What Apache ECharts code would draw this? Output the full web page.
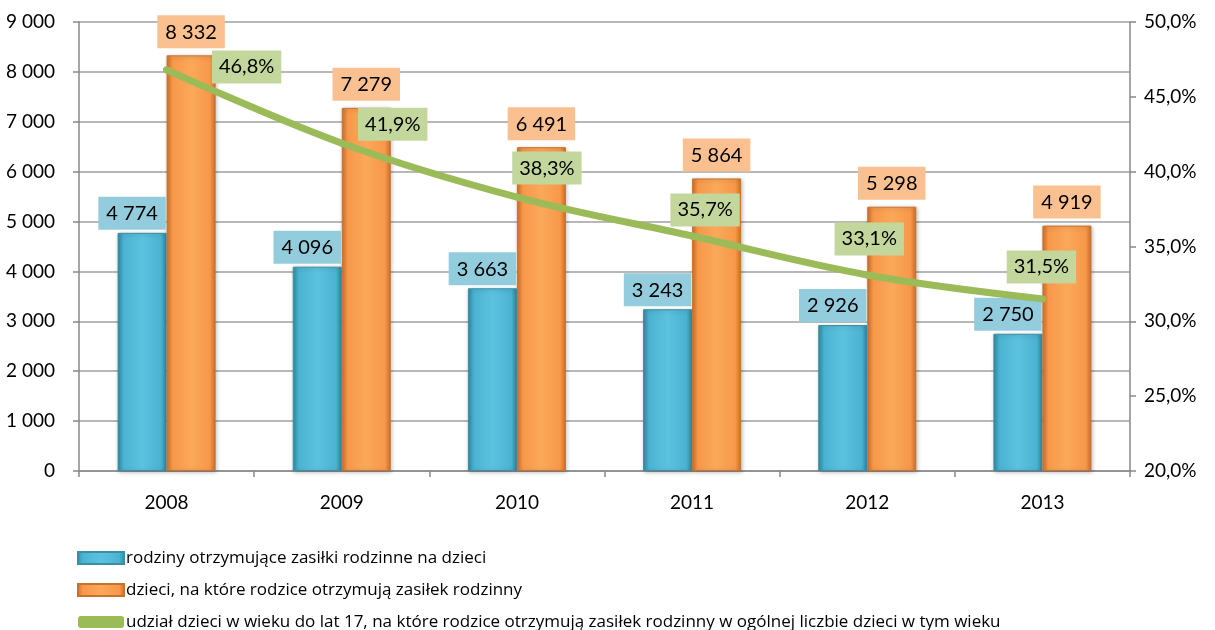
<!DOCTYPE html>
<html>
<head>
<meta charset="utf-8">
<script src="https://cdn.jsdelivr.net/npm/echarts@6/dist/echarts.min.js"></script>
<style>
  html, body { margin: 0; padding: 0; background: #fff; }
  #chart { width: 1215px; height: 630px; }
</style>
</head>
<body>
<div id="chart"></div>
<script>
// Years on the category axis
const years = ['2008', '2009', '2010', '2011', '2012', '2013'];
// Families receiving family allowances for children
const families = [4774, 4096, 3663, 3243, 2926, 2750];
// Children for whom parents receive family allowance
const children = [8332, 7279, 6491, 5864, 5298, 4919];
// Share of children under 17 receiving the allowance (%)
const share = [46.8, 41.9, 38.3, 35.7, 33.1, 31.5];

const seriesNames = [
  'rodziny otrzymujące zasiłki rodzinne na dzieci',
  'dzieci, na które rodzice otrzymują zasiłek rodzinny',
  'udział dzieci w wieku do lat 17, na które rodzice otrzymują zasiłek rodzinny w ogólnej liczbie dzieci w tym wieku'
];

// Per-point label shifts (from the point centre) for the share line boxes
const shareLabelOffsets = [[80, -3], [51, -19], [30, -29], [13, -26], [2, -36], [-1, -32]];

const FONT = 'Lato, "Open Sans", sans-serif';
const LEGEND_FONT = '"Open Sans", Lato, sans-serif';

const fmtThousands = v => String(Math.round(v)).replace(/\B(?=(\d{3})+(?!\d))/g, ' ');
const fmtPct = v => v.toFixed(1).replace('.', ',') + '%';

function barGradient(dark, mid, light) {
  return new echarts.graphic.LinearGradient(0, 0, 1, 0, [
    { offset: 0, color: dark },
    { offset: 0.12, color: mid },
    { offset: 0.5, color: light },
    { offset: 0.88, color: mid },
    { offset: 1, color: dark }
  ]);
}

const chart = echarts.init(document.getElementById('chart'), null, { renderer: 'canvas' });

chart.setOption({
  animation: false,
  textStyle: { fontFamily: FONT },
  grid: { left: 79, right: 85, top: 22, bottom: 159, containLabel: false },
  legend: {
    orient: 'vertical',
    left: 72,
    top: 542,
    height: 100,
    itemGap: 10,
    itemWidth: 46,
    itemHeight: 12,
    textStyle: { fontFamily: LEGEND_FONT, fontSize: 17, lineHeight: 22, color: '#000', padding: [0, 0, 0, -3] },
    data: [
      { name: seriesNames[0], icon: 'rect' },
      { name: seriesNames[1], icon: 'rect' },
      { name: seriesNames[2], icon: 'roundRect' }
    ]
  },
  xAxis: {
    type: 'category',
    data: years,
    axisLine: { lineStyle: { color: '#888', width: 1.5 } },
    axisTick: { show: true, length: 6, lineStyle: { color: '#888', width: 1.5 } },
    axisLabel: { fontSize: 19, color: '#000', margin: 22, fontFamily: FONT }
  },
  yAxis: [
    {
      type: 'value',
      min: 0,
      max: 9000,
      interval: 1000,
      axisLine: { show: true, lineStyle: { color: '#888', width: 1.5 } },
      axisTick: { show: true, length: 6, lineStyle: { color: '#888', width: 1.5 } },
      axisLabel: { fontSize: 19, color: '#000', margin: 24, formatter: fmtThousands, fontFamily: FONT },
      splitLine: { lineStyle: { color: '#a0a0a0', width: 1.5 } }
    },
    {
      type: 'value',
      min: 20,
      max: 50,
      interval: 5,
      position: 'right',
      axisLine: { show: true, lineStyle: { color: '#888', width: 1.5 } },
      axisTick: { show: true, length: 6, lineStyle: { color: '#888', width: 1.5 } },
      axisLabel: { fontSize: 19, color: '#000', margin: 14, formatter: v => fmtPct(v), fontFamily: FONT },
      splitLine: { show: false }
    }
  ],
  series: [
    {
      name: seriesNames[0],
      type: 'bar',
      data: families,
      barWidth: 49,
      barGap: '0%',
      itemStyle: {
        color: barGradient('#2f8aa3', '#4bb3d2', '#5cc2de'),
        borderColor: '#3a8ea6',
        borderWidth: 1,
        shadowColor: 'rgba(0,0,0,0.25)',
        shadowBlur: 4,
        shadowOffsetX: 1,
        shadowOffsetY: 1
      },
      label: {
        show: true,
        position: 'top',
        distance: 3,
        offset: [-10, 0],
        formatter: p => fmtThousands(p.value),
        fontFamily: FONT,
        fontSize: 20,
        lineHeight: 22,
        color: '#000',
        backgroundColor: '#93cddd',
        padding: [6, 8, 5, 8]
      },
      z: 2
    },
    {
      name: seriesNames[1],
      type: 'bar',
      data: children,
      barWidth: 49,
      barGap: '0%',
      itemStyle: {
        color: barGradient('#d0702a', '#f7984a', '#fba85a'),
        borderColor: '#c8722e',
        borderWidth: 1,
        shadowColor: 'rgba(0,0,0,0.25)',
        shadowBlur: 4,
        shadowOffsetX: 1,
        shadowOffsetY: 1
      },
      label: {
        show: true,
        position: 'top',
        distance: 7,
        offset: [0, 0],
        formatter: p => fmtThousands(p.value),
        fontFamily: FONT,
        fontSize: 20,
        lineHeight: 22,
        color: '#000',
        backgroundColor: '#fac090',
        padding: [6, 8, 5, 8]
      },
      z: 2
    },
    {
      name: seriesNames[2],
      type: 'line',
      yAxisIndex: 1,
      smooth: 0.35,
      data: share.map((v, i) => ({
        value: v,
        label: { offset: shareLabelOffsets[i] }
      })),
      symbol: 'circle',
      symbolSize: 7,
      showSymbol: true,
      itemStyle: { color: '#9bbb59' },
      lineStyle: { color: '#9bbb59', width: 7, cap: 'round' },
      label: {
        show: true,
        position: 'inside',
        formatter: p => fmtPct(p.value),
        fontFamily: FONT,
        fontSize: 20,
        lineHeight: 22,
        color: '#000',
        backgroundColor: '#c3d69b',
        padding: [6, 7, 5, 7]
      },
      z: 5
    }
  ]
});
</script>
</body>
</html>
